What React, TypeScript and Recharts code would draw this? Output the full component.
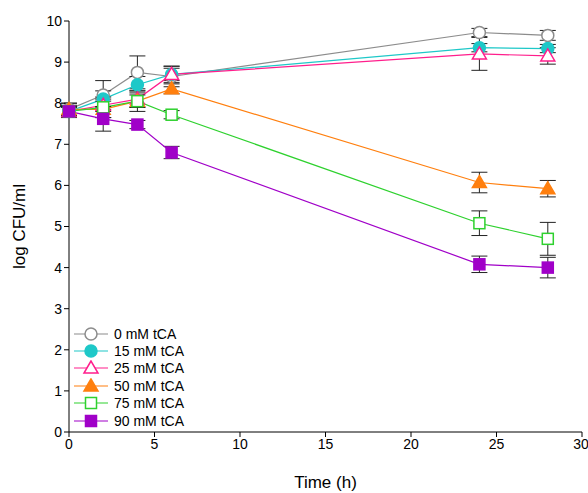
import React from "react";
import { LineChart, Line, XAxis, YAxis, ErrorBar } from "recharts";

const times = [0, 2, 4, 6, 24, 28];
const s0 = [7.85, 8.2, 8.75, 8.65, 9.72, 9.65];
const s15 = [7.8, 8.1, 8.45, 8.7, 9.35, 9.33];
const s25 = [7.8, 7.95, 8.1, 8.7, 9.2, 9.15];
const s50 = [7.85, 7.85, 8.05, 8.35, 6.07, 5.92];
const s75 = [7.8, 7.9, 8.05, 7.72, 5.08, 4.7];
const s90 = [7.8, 7.62, 7.48, 6.8, 4.08, 4.0];
const e0 = [0.15, 0.35, 0.4, 0.25, 0.1, 0.12];
const e15 = [0.1, 0.2, 0.2, 0.15, 0.1, 0.1];
const e25 = [0.1, 0.15, 0.2, 0.2, 0.4, 0.2];
const e50 = [0.15, 0.2, 0.15, 0.12, 0.25, 0.2];
const e75 = [0.15, 0.25, 0.25, 0.1, 0.3, 0.4];
const e90 = [0.12, 0.3, 0.1, 0.15, 0.2, 0.25];

const series = [
  { key: "a", name: "0 mM tCA", vals: s0, err: e0, color: "#8c8c8c", shape: "circle", fill: "#fff" },
  { key: "b", name: "15 mM tCA", vals: s15, err: e15, color: "#1ec8c8", shape: "circle", fill: "#1ec8c8" },
  { key: "c", name: "25 mM tCA", vals: s25, err: e25, color: "#ff1e8c", shape: "triangle", fill: "#fff" },
  { key: "d", name: "50 mM tCA", vals: s50, err: e50, color: "#ff7f0e", shape: "triangle", fill: "#ff7f0e" },
  { key: "e", name: "75 mM tCA", vals: s75, err: e75, color: "#2ed12e", shape: "square", fill: "#fff" },
  { key: "f", name: "90 mM tCA", vals: s90, err: e90, color: "#a000c8", shape: "square", fill: "#a000c8" },
];

const data = times.map((t, i) => {
  const row: any = { t };
  series.forEach((s) => {
    row[s.key] = s.vals[i];
    row[s.key + "_e"] = s.err[i];
  });
  return row;
});

function Marker({ cx, cy, shape, color, fill }: any) {
  if (cx == null || cy == null) return null;
  if (shape === "circle")
    return <circle cx={cx} cy={cy} r={6} fill={fill} stroke={color} strokeWidth={1.5} />;
  if (shape === "triangle")
    return (
      <polygon
        points={`${cx},${cy - 7} ${cx - 7},${cy + 5} ${cx + 7},${cy + 5}`}
        fill={fill}
        stroke={color}
        strokeWidth={1.5}
      />
    );
  return <rect x={cx - 5.5} y={cy - 5.5} width={11} height={11} fill={fill} stroke={color} strokeWidth={1.5} />;
}

const font = "Liberation Sans, Arial";

export default function App() {
  const tick = { fill: "#000", fontSize: 14, fontFamily: font };
  return (
    <div style={{ position: "absolute", left: 0, top: 0, background: "#fff", width: 588, height: 493 }}>
      <LineChart width={588} height={493} data={data} margin={{ top: 21, right: 6, left: 29, bottom: 31 }}>
        <XAxis
          dataKey="t"
          type="number"
          domain={[0, 30]}
          ticks={[0, 5, 10, 15, 20, 25, 30]}
          stroke="#000"
          tick={tick}
          tickSize={5}
          height={30}
          label={{ value: "Time (h)", position: "insideBottom", offset: -26, style: { ...tick, fontSize: 17 } }}
        />
        <YAxis
          type="number"
          domain={[0, 10]}
          ticks={[0, 1, 2, 3, 4, 5, 6, 7, 8, 9, 10]}
          stroke="#000"
          tick={tick}
          tickSize={5}
          width={40}
          label={{ value: "log CFU/ml", angle: -90, position: "insideLeft", offset: -10, style: { ...tick, fontSize: 17, textAnchor: "middle" } }}
        />
        {series.map((s) => (
          <Line
            key={s.key}
            dataKey={s.key}
            name={s.name}
            stroke={s.color}
            strokeWidth={1.2}
            isAnimationActive={false}
            dot={(p: any) => <Marker key={p.index} cx={p.cx} cy={p.cy} shape={s.shape} color={s.color} fill={s.fill} />}
          >
            <ErrorBar dataKey={s.key + "_e"} width={8} stroke="#222" strokeWidth={1} direction="y" />
          </Line>
        ))}
      </LineChart>
      <div style={{ position: "absolute", left: 72, top: 325, fontFamily: font, fontSize: 14 }}>
        {series.map((s) => (
          <div key={s.key} style={{ display: "flex", alignItems: "center", height: 17.4 }}>
            <svg width={38} height={16}>
              <line x1={2} y1={8} x2={36} y2={8} stroke={s.color} strokeWidth={1.2} />
              <Marker cx={19} cy={8} shape={s.shape} color={s.color} fill={s.fill} />
            </svg>
            <span style={{ marginLeft: 4 }}>{s.name}</span>
          </div>
        ))}
      </div>
    </div>
  );
}
